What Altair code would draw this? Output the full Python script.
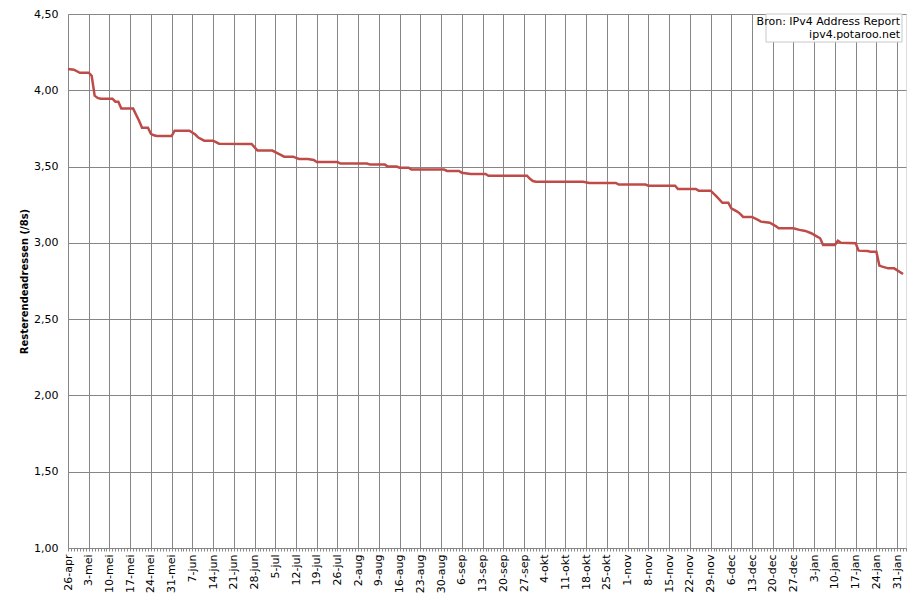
import altair as alt
import pandas as pd

# ---- data ----
start = "2010-04-26"
dates = [
    "2010-04-26", "2010-04-28", "2010-04-30", "2010-05-03", "2010-05-04", "2010-05-05",
    "2010-05-06", "2010-05-07", "2010-05-11", "2010-05-12", "2010-05-13", "2010-05-14",
    "2010-05-18", "2010-05-19", "2010-05-20", "2010-05-21", "2010-05-23", "2010-05-24",
    "2010-05-25", "2010-05-26", "2010-05-31", "2010-06-01", "2010-06-06", "2010-06-08",
    "2010-06-09", "2010-06-11", "2010-06-14", "2010-06-16", "2010-06-27", "2010-06-29",
    "2010-07-04", "2010-07-06", "2010-07-08", "2010-07-11", "2010-07-13", "2010-07-16",
    "2010-07-18", "2010-07-19", "2010-07-26", "2010-07-27", "2010-08-05", "2010-08-06",
    "2010-08-11", "2010-08-12", "2010-08-15", "2010-08-16", "2010-08-19", "2010-08-20",
    "2010-08-31", "2010-09-01", "2010-09-05", "2010-09-06", "2010-09-09", "2010-09-14",
    "2010-09-15", "2010-09-28", "2010-09-29", "2010-09-30", "2010-10-01", "2010-10-17",
    "2010-10-19", "2010-10-28", "2010-10-29", "2010-11-07", "2010-11-08", "2010-11-17",
    "2010-11-18", "2010-11-24", "2010-11-25", "2010-11-29", "2010-12-01", "2010-12-03",
    "2010-12-05", "2010-12-06", "2010-12-08", "2010-12-09", "2010-12-10", "2010-12-13",
    "2010-12-15", "2010-12-16", "2010-12-19", "2010-12-21", "2010-12-22", "2010-12-27",
    "2010-12-29", "2010-12-31", "2011-01-02", "2011-01-04", "2011-01-05", "2011-01-06",
    "2011-01-10", "2011-01-11", "2011-01-12", "2011-01-17", "2011-01-18", "2011-01-21",
    "2011-01-22", "2011-01-24", "2011-01-25", "2011-01-26", "2011-01-28", "2011-01-30",
    "2011-02-02",
]
values = [
    4.140, 4.135, 4.115, 4.115, 4.095, 3.965,
    3.950, 3.945, 3.945, 3.925, 3.925, 3.880,
    3.880, 3.840, 3.800, 3.755, 3.755, 3.715,
    3.705, 3.700, 3.700, 3.735, 3.735, 3.710,
    3.690, 3.670, 3.670, 3.650, 3.648, 3.605,
    3.605, 3.585, 3.565, 3.565, 3.550, 3.550,
    3.543, 3.530, 3.530, 3.520, 3.520, 3.513,
    3.513, 3.500, 3.500, 3.493, 3.493, 3.480,
    3.480, 3.471, 3.471, 3.460, 3.452, 3.452,
    3.440, 3.440, 3.420, 3.405, 3.400, 3.400,
    3.393, 3.393, 3.382, 3.382, 3.375, 3.375,
    3.353, 3.353, 3.342, 3.342, 3.305, 3.263,
    3.263, 3.227, 3.205, 3.190, 3.170, 3.170,
    3.150, 3.139, 3.132, 3.110, 3.096, 3.096,
    3.085, 3.078, 3.063, 3.041, 3.030, 2.986,
    2.986, 3.014, 3.001, 2.997, 2.949, 2.946,
    2.942, 2.942, 2.851, 2.844, 2.833, 2.833,
    2.796,
]
tick_labels = [
    "26-apr", "3-mei", "10-mei", "17-mei", "24-mei", "31-mei", "7-jun", "14-jun",
    "21-jun", "28-jun", "5-jul", "12-jul", "19-jul", "26-jul", "2-aug", "9-aug",
    "16-aug", "23-aug", "30-aug", "6-sep", "13-sep", "20-sep", "27-sep", "4-okt",
    "11-okt", "18-okt", "25-okt", "1-nov", "8-nov", "15-nov", "22-nov", "29-nov",
    "6-dec", "13-dec", "20-dec", "27-dec", "3-jan", "10-jan", "17-jan", "24-jan",
    "31-jan",
]
y_ticks = [1.0, 1.5, 2.0, 2.5, 3.0, 3.5, 4.0, 4.5]
source_lines = ["Bron: IPv4 Address Report", "ipv4.potaroo.net"]
y_title = "Resterendeadressen (/8s)"

# ---- build table ----
df = pd.DataFrame({"date": pd.to_datetime(dates), "value": values})
df["day"] = (df["date"] - pd.Timestamp(start)).dt.days
df = df[["day", "value"]]

last_day = 283
week_vals = [7 * i for i in range(len(tick_labels))]
day_vals = list(range(0, last_day + 1))
label_arr = "[" + ",".join("'" + s + "'" for s in tick_labels) + "]"

GRID = "#868686"
FONT = "DejaVu Sans"

xscale = alt.Scale(domain=[0, last_day], nice=False, zero=False)
yscale = alt.Scale(domain=[1.0, 4.5], nice=False, zero=False)

line = alt.Chart(df).mark_line(color="#BE4B48", strokeWidth=2.5, interpolate="linear").encode(
    x=alt.X("day:Q", scale=xscale, axis=alt.Axis(
        values=week_vals, title=None, grid=True, gridColor=GRID, gridOpacity=1,
        domain=False, ticks=False, labelAngle=270, labelAlign="right",
        labelBaseline="middle", labelPadding=6, labelFont=FONT, labelFontSize=11,
        labelColor="#000000", labelOverlap=False,
        labelExpr=label_arr + "[round(datum.value/7)]")),
    y=alt.Y("value:Q", scale=yscale, axis=alt.Axis(
        values=y_ticks, title=y_title, grid=True, gridColor=GRID, gridOpacity=1,
        domain=False, ticks=False, labelPadding=10, labelFont=FONT, labelFontSize=11,
        labelColor="#000000",
        labelExpr="replace(format(datum.value, '.2f'), '.', ',')",
        titleFont=FONT, titleFontSize=10, titleFontWeight="bold", titleColor="#000000",
        titleX=-44, titleY=267, titleAngle=270, titleAlign="center",
        titleBaseline="middle")),
)

minor = alt.Chart(df).mark_point(opacity=0).encode(
    x=alt.X("day:Q", scale=xscale, axis=alt.Axis(
        values=day_vals, title=None, grid=False, labels=False, domain=False,
        ticks=True, tickSize=3, tickColor=GRID, orient="bottom")),
)

one = pd.DataFrame({"a": [0]})
box = alt.Chart(one).mark_rect(fill="white", stroke="#c8c8c8", strokeWidth=1).encode(
    x=alt.value(698), x2=alt.value(834), y=alt.value(0), y2=alt.value(28))
txt1 = alt.Chart(one).mark_text(align="right", baseline="middle", font=FONT,
                                fontSize=11, color="#000000").encode(
    x=alt.value(832), y=alt.value(8), text=alt.value(source_lines[0]))
txt2 = alt.Chart(one).mark_text(align="right", baseline="middle", font=FONT,
                                fontSize=11, color="#000000").encode(
    x=alt.value(832), y=alt.value(21), text=alt.value(source_lines[1]))

chart = alt.layer(line, minor, box, txt1, txt2).resolve_axis(x="independent").properties(
    width=838, height=534,
    autosize=alt.AutoSizeParams(type="none"),
    padding={"left": 60, "top": 6, "right": 6, "bottom": 45},
).configure_view(stroke=GRID, strokeWidth=1).configure(background="white")

chart.save("out.html", embed_options={"renderer": "svg", "actions": False})
